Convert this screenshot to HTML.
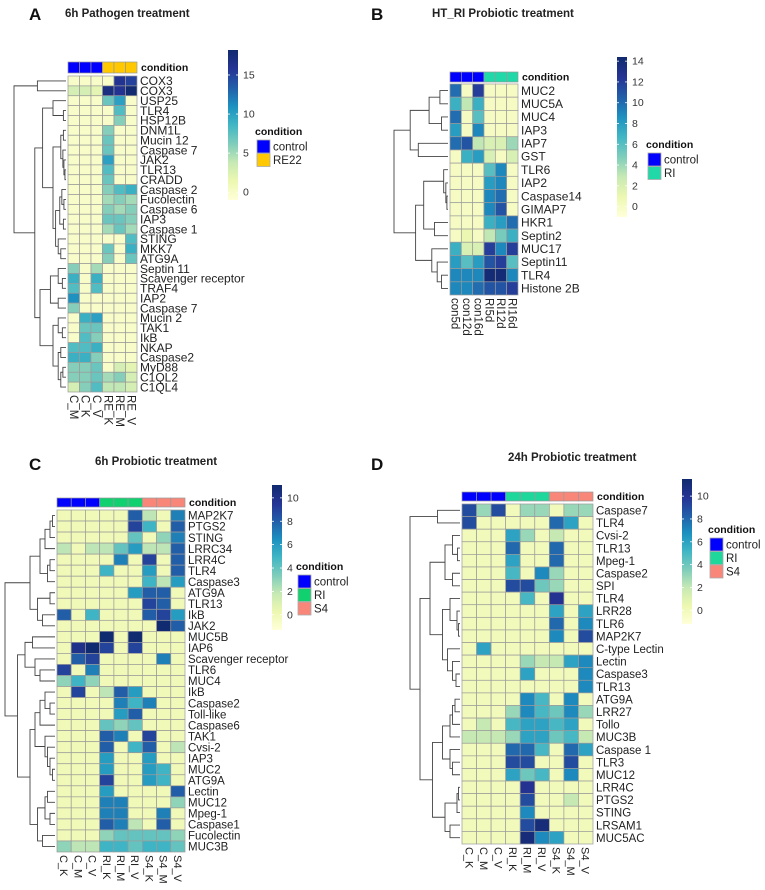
<!DOCTYPE html>
<html><head><meta charset="utf-8"><style>
html,body{margin:0;padding:0;background:#fff;}
svg text{font-family:"Liberation Sans",sans-serif;}
</style></head><body>
<svg id="fig" width="765" height="885" viewBox="0 0 765 885" xmlns="http://www.w3.org/2000/svg">
<defs>
<linearGradient id="ylgnbu" x1="0" y1="1" x2="0" y2="0">
<stop offset="0" stop-color="#ffffd9"/><stop offset="0.125" stop-color="#edf8b1"/><stop offset="0.25" stop-color="#c7e9b4"/><stop offset="0.375" stop-color="#7fcdbb"/><stop offset="0.5" stop-color="#41b6c4"/><stop offset="0.625" stop-color="#1d91c0"/><stop offset="0.75" stop-color="#225ea8"/><stop offset="0.875" stop-color="#253494"/><stop offset="1" stop-color="#102a6e"/>
</linearGradient>
</defs>
</svg>
<script>
// ---------- Panel A data ----------
const aCols = ["C_M","C_K","C_V","RE_K","RE_M","RE_V"];
const aGroups = ["control","control","control","RE22","RE22","RE22"];
const aRows = ["COX3","COX3","USP25","TLR4","HSP12B","DNM1L","Mucin 12","Caspase 7","JAK2","TLR13","CRADD","Caspase 2","Fucolectin","Caspase 6","IAP3","Caspase 1","STING","MKK7","ATG9A","Septin 11","Scavenger receptor","TRAF4","IAP2","Caspase 7","Mucin 2","TAK1","IkB","NKAP","Caspase2","MyD88","C1QL2","C1QL4"];
const aValues = [
[0,0,0,0,16,15],[3,3,2,17,16,18],[0,0,0,7,10,0],[0,0,0,0,8,0],[0,0,0,0,6,0],
[0,0,0,6,0,0],[0,0,0,7,0,0],[0,0,0,7,0,0],[0,0,0,10,0,0],[0,0,0,8,0,0],[0,0,0,7,0,0],
[0,0,0,6,8,9],[0,0,0,5,6,5],[0,0,0,6,5,6],[0,0,0,7,7,6],[0,0,0,5,7,5],[0,0,0,0,0,8],
[0,0,0,7,0,9],[0,0,0,6,0,7],[6,0,5,0,0,0],[9,0,9,0,0,0],[8,0,8,0,0,0],[11,0,0,0,0,0],
[6,0,0,0,0,0],[0,9,10,0,0,0],[0,7,7,0,0,0],[0,8,6,0,0,0],[8,8,9,0,0,0],[9,9,6,0,0,0],
[6,6,7,0,3,2],[6,6,7,5,6,3],[3,6,8,4,4,3]];
const aTicks = [0,5,10,15];
const aLegend = ["control","RE22"];
// ---------- Panel B data ----------
const bCols = ["con5d","con12d","con16d","RI5d","RI12d","RI16d"];
const bGroups = ["control","control","control","RI","RI","RI"];
const bRows = ["MUC2","MUC5A","MUC4","IAP3","IAP7","GST","TLR6","IAP2","Caspase14","GIMAP7","HKR1","Septin2","MUC17","Septin11","TLR4","Histone 2B"];
const bValues = [
[10,0,12,0,0,0],[7,3,7,0,0,0],[10,0,6,0,0,0],[8,0,9,0,0,0],[10,11,3,2,2,4],[0,7,8,2,0,2],
[0,0,0,6,9,0],[0,0,0,8,9,0],[0,0,0,9,10,0],[0,0,0,9,11,0],[0,0,0,7,8,10],[0,1,0,3,5,7],
[7,2,2,12,9,12],[8,6,8,11,12,6],[9,9,9,14,14,9],[9,9,10,11,11,12]];
const bTicks = [0,2,4,6,8,10,12,14];
const bLegend = ["control","RI"];
// ---------- Panel C data ----------
const cCols = ["C_K","C_M","C_V","RI_K","RI_M","RI_V","S4_K","S4_M","S4_V"];
const cGroups = ["control","control","control","RI","RI","RI","S4","S4","S4"];
const cRows = ["MAP2K7","PTGS2","STING","LRRC34","LRR4C","TLR4","Caspase3","ATG9A","TLR13","IkB","JAK2","MUC5B","IAP6","Scavenger receptor","TLR6","MUC4","IkB","Caspase2","Toll-like","Caspase6","TAK1","Cvsi-2","IAP3","MUC2","ATG9A","Lectin","MUC12","Mpeg-1","Caspase1","Fucolectin","MUC3B"];
const cValues = [
[0,0,0,0,0,8,2,0,7],[0,0,0,0,0,9,5,0,8],[0,0,0,0,0,4,0,3,7],[2,0,2,2,4,6,2,2,8],
[0,0,0,0,7,0,9,0,8],[0,0,0,5,0,0,6,0,8],[0,0,0,0,0,0,5,2,6],[0,0,0,0,0,6,8,8,0],
[0,0,0,0,0,0,9,8,0],[8,0,5,0,0,0,8,9,6],[0,0,0,0,0,0,0,11,8],[0,0,0,11,0,11,0,0,0],
[0,10,11,9,0,9,0,0,0],[0,8,9,0,0,0,0,7,0],[9,0,7,0,0,0,0,0,0],[3,5,3,0,0,0,0,0,0],
[0,9,0,2,8,6,0,0,0],[0,0,0,0,7,5,7,0,0],[0,0,0,0,6,8,0,0,0],[0,0,0,4,3,4,0,0,0],
[0,0,0,8,7,0,9,0,0],[0,0,0,8,0,5,8,0,2],[0,0,0,6,0,0,6,0,0],[0,0,0,6,0,0,6,5,0],
[0,0,0,9,0,0,6,5,0],[0,0,0,6,0,0,0,0,8],[0,0,0,7,7,0,0,0,3],[0,0,0,7,7,0,0,7,0],
[0,0,0,8,7,2,0,8,0],[0,0,0,3,4,4,4,4,3],[3,2,2,5,5,4,5,5,4]];
const cTicks = [0,2,4,6,8,10];
const cLegend = ["control","RI","S4"];
// ---------- Panel D data ----------
const dCols = ["C_K","C_M","C_V","RI_K","RI_M","RI_V","S4_K","S4_M","S4_V"];
const dGroups = ["control","control","control","RI","RI","RI","S4","S4","S4"];
const dRows = ["Caspase7","TLR4","Cvsi-2","TLR13","Mpeg-1","Caspase2","SPI","TLR4","LRR28","TLR6","MAP2K7","C-type Lectin","Lectin","Caspase3","TLR13","ATG9A","LRR27","Tollo","MUC3B","Caspase 1","TLR3","MUC12","LRR4C","PTGS2","STING","LRSAM1","MUC5AC"];
const dValues = [
[9,3,9,0,3,3,0,3,3],[9,0,0,0,0,0,8,6,0],[0,0,0,6,3,0,2,0,0],[0,0,0,8,0,0,8,0,0],
[0,0,0,6,0,0,8,0,0],[0,0,0,5,0,7,3,0,0],[0,0,0,9,9,4,3,0,0],[0,0,0,0,5,0,10,0,0],
[0,0,0,0,0,0,6,0,6],[0,0,0,0,0,0,8,0,7],[0,0,0,0,0,0,7,0,9],[0,6,0,0,0,0,0,0,0],
[0,0,0,0,3,2,2,6,7],[0,0,0,0,6,0,0,0,7],[0,0,0,0,0,0,0,0,7],[0,0,0,0,7,5,0,7,0],
[0,0,0,3,7,5,4,7,3],[0,2,0,5,6,6,5,6,0],[2,2,2,3,6,6,4,5,2],[0,0,0,8,8,5,0,8,6],
[0,0,0,9,9,0,0,9,0],[0,0,0,6,4,5,0,7,0],[0,0,0,0,10,0,0,0,0],[0,0,0,0,9,0,0,2,0],
[0,0,0,0,7,0,0,0,0],[0,0,0,0,9,11,0,0,0],[0,0,0,0,11,7,6,0,0]];
const dTicks = [0,2,4,6,8,10];
const dLegend = ["control","RI","S4"];

const NS = "http://www.w3.org/2000/svg";
const svg = document.getElementById("fig");
const stops = [[0,"#ffffd9"],[0.125,"#edf8b1"],[0.25,"#c7e9b4"],[0.375,"#7fcdbb"],[0.5,"#41b6c4"],[0.625,"#1d91c0"],[0.75,"#225ea8"],[0.875,"#253494"],[1,"#102a6e"]];
function hex(c){return [parseInt(c.slice(1,3),16),parseInt(c.slice(3,5),16),parseInt(c.slice(5,7),16)];}
function colorOf(t){
  t=Math.max(0,Math.min(1,t));
  for(let i=1;i<stops.length;i++){ if(t<=stops[i][0]){
    const a=hex(stops[i-1][1]),b=hex(stops[i][1]),f=(t-stops[i-1][0])/(stops[i][0]-stops[i-1][0]);
    return "rgb("+a.map((v,k)=>Math.round(v+(b[k]-v)*f)).join(",")+")";}}
  return stops[stops.length-1][1];
}
function mk(tag,attrs,parent){const e=document.createElementNS(NS,tag);for(const k in attrs)e.setAttribute(k,attrs[k]);(parent||svg).appendChild(e);return e;}
function txt(s,attrs,parent){const e=mk("text",attrs,parent);e.textContent=s;return e;}

function drawPanel(p){
  const g=mk("g",{});
  
  
  const nC=p.cols.length,nR=p.rows.length;
  const cw=(p.x1-p.x0)/nC, rh=(p.y1-p.y0)/nR;
  const xScale=i=>p.x0+i*cw, yScale=i=>p.y0+i*rh;
  const cScale=v=>(v-p.vmin)/(p.vmax-p.vmin);
  // letter & title
  const L=txt(p.letter,{x:p.lx,y:p.ly,"font-size":17,"font-weight":"bold",fill:"#111"},g);
  
  
  const T=txt(p.title,{x:p.tx,y:p.ty,"font-size":11.5,"font-weight":"bold",fill:"#222"},g);
  
  
  // annotation bar
  for(let j=0;j<nC;j++){
    const r=mk("rect",{x:xScale(j),y:p.ay0,width:cw,height:p.ay1-p.ay0,fill:p.gcol[p.groups[j]],stroke:"#999","stroke-width":0.7},g);
    
    
  }
  const at=txt("condition",{x:p.x1+4,y:(p.ay0+p.ay1)/2+3.5,"font-size":10.5,"font-weight":"bold",fill:"#111"},g);
  
  
  // cells
  for(let i=0;i<nR;i++){
    for(let j=0;j<nC;j++){
      const r=mk("rect",{x:xScale(j),y:yScale(i),width:cw,height:rh,fill:colorOf(cScale(p.values[i][j])),stroke:"#9a9a9a","stroke-width":0.7},g);
      
      
    }
    const t=txt(p.rows[i],{x:p.x1+3,y:yScale(i)+rh/2+4.2,"font-size":p.fs,fill:"#222"},g);
    
    
  }
  for(let j=0;j<nC;j++){
    const cx=xScale(j)+cw/2-4, cy=p.y1+3;
    const t=txt(p.cols[j],{x:cx,y:cy,"font-size":p.fs-0.5,fill:"#222",transform:"rotate(90 "+cx+" "+cy+")"},g);
    
    
  }
  // dendrogram
  const dg=mk("g",{stroke:"#444","stroke-width":0.9,fill:"none"},g);
  
  
  const xr=p.x0-2;
  function walk(n){
    if(typeof n==="number") return [xr,yScale(n)+rh/2];
    const a=walk(n[0]),b=walk(n[1]);
    const x=xr-n[2]*(xr-p.dx);
    mk("path",{d:"M"+a[0]+","+a[1]+"H"+x+"V"+b[1]+"H"+b[0]},dg);
    return [x,(a[1]+b[1])/2];
  }
  walk(p.tree);
  // colorbar
  const cb=mk("rect",{x:p.cbx,y:p.cby0,width:10,height:p.cby1-p.cby0,fill:"url(#ylgnbu)"},g);
  
  
  p.ticks.forEach(v=>{
    const y=p.cby1-(v-p.vmin)/(p.vmax-p.vmin)*(p.cby1-p.cby0);
    mk("line",{x1:p.cbx,x2:p.cbx+2,y1:y,y2:y,stroke:"#fff","stroke-width":0.8},g);
    mk("line",{x1:p.cbx+8,x2:p.cbx+10,y1:y,y2:y,stroke:"#fff","stroke-width":0.8},g);
    const t=txt(String(v),{x:p.cbx+15,y:y+3.5,"font-size":10.5,fill:"#333"},g);
    
    
  });
  // legend
  const lt=txt("condition",{x:p.lgx-2,y:p.lgy,"font-size":10.5,"font-weight":"bold",fill:"#111"},g);
  
  
  p.legend.forEach((s,k)=>{
    const y=p.lgy+5+k*13.5;
    const r=mk("rect",{x:p.lgx,y:y,width:13,height:13,fill:p.gcol[s],stroke:"#aaa","stroke-width":0.8},g);
    
    
    const t=txt(s,{x:p.lgx+16,y:y+10.5,"font-size":11.5,fill:"#222"},g);
    
    
  });
}

drawPanel({id:"a",letter:"A",title:"6h Pathogen treatment",lx:29,ly:20,tx:65,ty:17,
  cols:aCols,groups:aGroups,rows:aRows,values:aValues,ticks:aTicks,legend:aLegend,
  x0:68,x1:137,y0:76,y1:392,ay0:62,ay1:73,dx:14,fs:12,vmin:-1,vmax:18.2,
  cbx:228,cby0:50,cby1:200,lgx:257,lgy:135,
  gcol:{control:"#0000ff",RE22:"#ffc800"},
  tree:[[0,1,0.55],[[[2,[3,4,0.05],0.25],[[[5,6,0.05],[7,[8,[9,10,0.02],0.04],0.06],0.1],[[[11,[12,13,0.04],0.08],[14,15,0.05],0.12],[16,[17,18,0.1],0.15],0.2],0.25],0.45],[[[19,[20,21,0.07],0.15],[22,23,0.15],0.3],[[24,[25,26,0.07],0.15],[[27,28,0.1],[[29,30,0.06],31,0.1],0.15],0.25],0.5],0.6],1]});
// note: panel A has 32 labelled rows
drawPanel({id:"b",letter:"B",title:"HT_RI Probiotic treatment",lx:371,ly:20,tx:432,ty:17,
  cols:bCols,groups:bGroups,rows:bRows,values:bValues,ticks:bTicks,legend:bLegend,
  x0:450,x1:518,y0:84,y1:295,ay0:72,ay1:82,dx:394,fs:12,vmin:-1,vmax:14.4,
  cbx:617,cby0:57,cby1:217,lgx:648,lgy:148,
  gcol:{control:"#0000ff",RI:"#20d8a8"},
  tree:[[[[0,1,0.15],[2,3,0.12],0.35],[4,5,0.55],0.7],[[[6,[7,[8,9,0.02],0.04],0.08],[10,11,0.25],0.45],[12,[13,[14,15,0.12],0.2],0.3],0.6],1]});
drawPanel({id:"c",letter:"C",title:"6h Probiotic treatment",lx:29,ly:470,tx:95,ty:465,
  cols:cCols,groups:cGroups,rows:cRows,values:cValues,ticks:cTicks,legend:cLegend,
  x0:57,x1:185,y0:510,y1:852,ay0:498,ay1:507,dx:5,fs:11.5,vmin:-1.3,vmax:11.1,
  cbx:272,cby0:485,cby1:630,lgx:298,lgy:570,
  gcol:{control:"#0000ff",RI:"#10d070",S4:"#f8877a"},
  tree:[[[[[[0,1,0.05],2,0.1],3,0.2],[[4,5,0.1],6,0.15],0.3],[[7,8,0.1],[9,10,0.25],0.35],0.5],[[[11,12,0.45],[13,[14,15,0.3],0.4],0.6],[[[[16,[17,18,0.1],0.2],19,0.3],[20,[21,[22,[23,24,0.05],0.1],0.15],0.2],0.4],[[[25,26,0.15],[27,28,0.1],0.2],[29,30,0.25],0.35],0.5],0.75],1]});
drawPanel({id:"d",letter:"D",title:"24h Probiotic treatment",lx:371,ly:470,tx:508,ty:461,
  cols:dCols,groups:dGroups,rows:dRows,values:dValues,ticks:dTicks,legend:dLegend,
  x0:462,x1:593,y0:504,y1:844,ay0:492,ay1:501,dx:410,fs:11.5,vmin:-1.2,vmax:11.5,
  cbx:682,cby0:479,cby1:624,lgx:710,lgy:533,
  gcol:{control:"#0000ff",RI:"#1ed79a",S4:"#f8877a"},
  tree:[[0,1,0.45],[[[[2,[3,4,0.05],0.15],[5,6,0.15],0.3],[[7,[8,[9,10,0.03],0.06],0.2],[11,[12,[13,14,0.08],0.15],0.25],0.35],0.6],[[[[[15,16,0.1],17,0.15],18,0.2],[19,[20,21,0.15],0.2],0.35],[[[22,23,0.03],24,0.06],[25,26,0.2],0.3],0.55],0.8],1]});
</script>
</body></html>
